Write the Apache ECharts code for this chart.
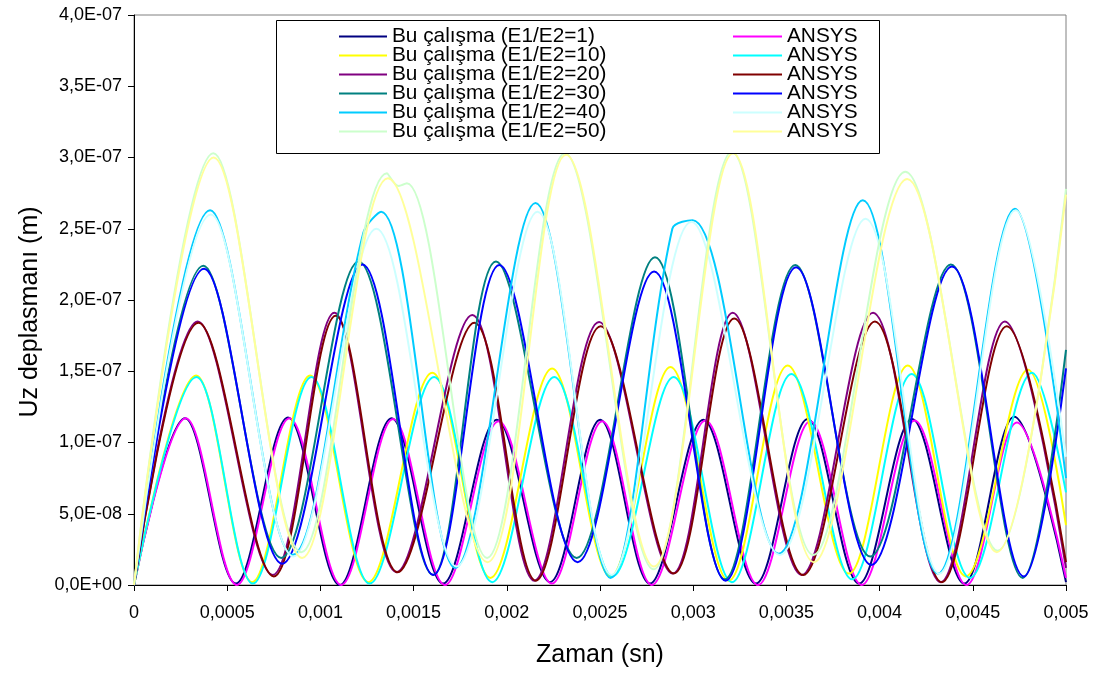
<!DOCTYPE html>
<html>
<head>
<meta charset="utf-8">
<script src="https://cdn.jsdelivr.net/npm/echarts@6/dist/echarts.min.js"></script>
<style>
  html, body { margin: 0; padding: 0; background: #ffffff; }
  #chart { width: 1105px; height: 678px; }
</style>
</head>
<body>
<div id="chart"></div>
<script>
// Tip displacement Uz (m) against time (s), given at the turning points of each response.
const bu1 = [[0,0],[0.000274,1.17e-7],[0.000546,0.1e-8],[0.000826,1.175e-7],[0.001104,0],[0.001382,1.17e-7],[0.001658,0.1e-8],[0.001946,1.16e-7],[0.002232,0.2e-8],[0.002501,1.16e-7],[0.002768,0.1e-8],[0.003054,1.16e-7],[0.003336,0.1e-8],[0.003614,1.165e-7],[0.00389,0.1e-8],[0.004174,1.165e-7],[0.004454,0.1e-8],[0.004722,1.18e-7],[0.005,0.2e-8]];
const ansys1 = [[0,0],[0.000278,1.17e-7],[0.000552,0],[0.000834,1.17e-7],[0.001112,0],[0.00139,1.165e-7],[0.001668,0],[0.001956,1.15e-7],[0.002242,0.1e-8],[0.002512,1.15e-7],[0.002778,0],[0.003066,1.155e-7],[0.003348,0],[0.003628,1.15e-7],[0.003904,0],[0.004188,1.155e-7],[0.004466,0],[0.004736,1.14e-7],[0.005,0.5e-8]];

const bu10 = [[0,0],[0.000333,1.47e-7],[0.000634,0.2e-8],[0.000945,1.47e-7],[0.001257,0.2e-8],[0.0016,1.49e-7],[0.001912,0.5e-8],[0.002243,1.52e-7],[0.002556,0.6e-8],[0.002878,1.53e-7],[0.00319,0.3e-8],[0.003507,1.54e-7],[0.003835,0.8e-8],[0.004151,1.54e-7],[0.004463,0.6e-8],[0.004796,1.51e-7],[0.005,4.2e-8]];
const ansys10 = [[0,0],[0.000335,1.46e-7],[0.000638,0.1e-8],[0.000952,1.46e-7],[0.001265,0.1e-8],[0.00161,1.46e-7],[0.001922,0.2e-8],[0.002255,1.46e-7],[0.002568,0.6e-8],[0.002895,1.46e-7],[0.003208,0.2e-8],[0.003527,1.48e-7],[0.003853,0.4e-8],[0.004172,1.48e-7],[0.004485,0.5e-8],[0.004818,1.49e-7],[0.005,6.5e-8]];

const bu20 = [[0,0],[0.000342,1.85e-7],[0.000744,0.7e-8],[0.001075,1.91e-7],[0.001408,0.9e-8],[0.001815,1.895e-7],[0.002148,0.3e-8],[0.002495,1.845e-7],[0.00289,0.8e-8],[0.003212,1.91e-7],[0.003582,0.7e-8],[0.003965,1.91e-7],[0.004328,0.2e-8],[0.004672,1.85e-7],[0.005,1.2e-8]];
const ansys20 = [[0,0],[0.000346,1.84e-7],[0.00075,0.6e-8],[0.001082,1.89e-7],[0.001414,0.9e-8],[0.001826,1.84e-7],[0.002156,0.3e-8],[0.002503,1.815e-7],[0.002896,0.8e-8],[0.00322,1.87e-7],[0.00359,0.7e-8],[0.003975,1.85e-7],[0.004334,0.2e-8],[0.004682,1.815e-7],[0.005,1.6e-8]];

const bu30 = [[0,0],[0.000372,2.24e-7],[0.00079,1.9e-8],[0.001205,2.27e-7],[0.001604,0.7e-8],[0.001942,2.27e-7],[0.002375,1.9e-8],[0.002795,2.3e-7],[0.00317,0.4e-8],[0.003548,2.245e-7],[0.00395,2.0e-8],[0.004382,2.25e-7],[0.004768,0.5e-8],[0.005,1.65e-7]];
const ansys30 = [[0,0],[0.000376,2.22e-7],[0.000795,1.5e-8],[0.001225,2.25e-7],[0.001606,0.7e-8],[0.00196,2.245e-7],[0.00238,1.6e-8],[0.00279,2.2e-7],[0.003174,0.3e-8],[0.003552,2.23e-7],[0.003956,1.4e-8],[0.004388,2.235e-7],[0.004774,0.6e-8],[0.005,1.52e-7]];

const bu40 = [[0,0],[0.000408,2.63e-7],[0.000849,2.1e-8],[0.00123,2.47e-7],[0.001326,2.62e-7],[0.001724,1.2e-8],[0.002154,2.68e-7],[0.002556,0.5e-8],[0.002888,2.5e-7],[0.002997,2.56e-7],[0.003459,2.2e-8],[0.00391,2.7e-7],[0.004313,0.8e-8],[0.004726,2.64e-7],[0.005,7.5e-8]];
const ansys40 = [[0,0],[0.000412,2.6e-7],[0.000855,2.0e-8],[0.0013,2.5e-7],[0.00173,1.3e-8],[0.002165,2.62e-7],[0.002562,0.7e-8],[0.00299,2.55e-7],[0.003465,2.1e-8],[0.003925,2.57e-7],[0.00432,0.8e-8],[0.00473,2.63e-7],[0.005,9e-8]];

const bu50 = [[0,0],[0.000426,3.03e-7],[0.000898,2.3e-8],[0.001357,2.89e-7],[0.00142,2.8e-7],[0.001464,2.82e-7],[0.001894,1.9e-8],[0.002312,3.03e-7],[0.002787,1.1e-8],[0.003208,3.04e-7],[0.003645,2.1e-8],[0.004138,2.9e-7],[0.004633,2.4e-8],[0.005,2.78e-7]];
const ansys50 = [[0,0],[0.000428,3.0e-7],[0.000902,1.9e-8],[0.001362,2.855e-7],[0.001896,1.6e-8],[0.002318,3.02e-7],[0.002789,1.3e-8],[0.003214,3.03e-7],[0.003648,1.6e-8],[0.004148,2.85e-7],[0.004629,2.3e-8],[0.005,2.74e-7]];

const ratios = ['1', '10', '20', '30', '40', '50'];
const ownResults = [bu1, bu10, bu20, bu30, bu40, bu50];
const ansysResults = [ansys1, ansys10, ansys20, ansys30, ansys40, ansys50];
const ownColors = ['#000080', '#FFFF00', '#800080', '#008080', '#00CCFF', '#CCFFCC'];
const ansysColors = ['#FF00FF', '#00FFFF', '#800000', '#0000FF', '#CCFFFF', '#FFFF99'];

const FONT = "'Liberation Sans', Arial, sans-serif";

const ownNames = ratios.map(r => 'Bu çalışma (E1/E2=' + r + ')');
const ansysNames = ratios.map(r => 'ANSYS (E1/E2=' + r + ')');

function lineSeries(name, data, color) {
  return {
    name: name,
    type: 'line',
    data: data,
    smooth: 0.35,
    symbol: 'none',
    lineStyle: { color: color, width: 2 },
    itemStyle: { color: color },
    emphasis: { disabled: true },
    animation: false
  };
}

// Draw order: each pair (own result, ANSYS) in turn
const series = [];
ratios.forEach((r, i) => {
  series.push(lineSeries(ownNames[i], ownResults[i], ownColors[i]));
  series.push(lineSeries(ansysNames[i], ansysResults[i], ansysColors[i]));
});

function sciLabel(v) {
  const parts = v.toExponential(1).split('e');
  const exp = parseInt(parts[1], 10);
  const sign = exp < 0 ? '-' : '+';
  return parts[0].replace('.', ',') + 'E' + sign + String(Math.abs(exp)).padStart(2, '0');
}

function timeLabel(v) {
  if (v === 0) return '0';
  return String(Number(v.toFixed(5))).replace('.', ',');
}

const legendCommon = {
  orient: 'vertical',
  top: 26,
  itemGap: -2,
  icon: 'rect',
  itemHeight: 2,
  padding: 0,
  selectedMode: false,
  textStyle: { fontFamily: FONT, fontSize: 20.8, lineHeight: 19, color: '#000000' },
  formatter: name => name.startsWith('ANSYS') ? 'ANSYS' : name,
  z: 5
};

const chart = echarts.init(document.getElementById('chart'), null, { renderer: 'canvas' });
chart.setOption({
  backgroundColor: '#ffffff',
  animation: false,
  grid: {
    left: 134, right: 39, top: 15, bottom: 93,
    show: true, borderColor: '#808080', borderWidth: 1, backgroundColor: 'transparent'
  },
  legend: [
    Object.assign({}, legendCommon, { left: 339, itemWidth: 48, data: ownNames }),
    Object.assign({}, legendCommon, { left: 733, itemWidth: 49, data: ansysNames })
  ],
  graphic: [{
    type: 'rect',
    shape: { x: 276.5, y: 20.5, width: 603, height: 133 },
    style: { fill: '#ffffff', stroke: '#000000', lineWidth: 1 },
    z: 4
  }],
  xAxis: {
    type: 'value',
    min: 0, max: 0.005, interval: 0.0005,
    name: 'Zaman (sn)',
    nameLocation: 'middle',
    nameGap: 58,
    nameTextStyle: { fontFamily: FONT, fontSize: 25, color: '#000000' },
    axisLine: { show: true, onZero: false, lineStyle: { color: '#000000', width: 1 } },
    axisTick: { show: true, inside: false, length: 6, lineStyle: { color: '#000000' } },
    axisLabel: {
      show: true, margin: 19, showMinLabel: true, showMaxLabel: true,
      fontFamily: FONT, fontSize: 18, color: '#000000', formatter: timeLabel
    },
    splitLine: { show: false }
  },
  yAxis: {
    type: 'value',
    min: 0, max: 4e-7, interval: 5e-8,
    name: 'Uz deplasmanı (m)',
    nameLocation: 'middle',
    nameGap: 91,
    nameTextStyle: { fontFamily: FONT, fontSize: 25, color: '#000000', padding: [0, 24, 0, 0] },
    axisLine: { show: true, onZero: false, lineStyle: { color: '#000000', width: 1 } },
    axisTick: { show: true, inside: false, length: 6, lineStyle: { color: '#000000' } },
    axisLabel: {
      show: true, margin: 12, showMinLabel: true, showMaxLabel: true,
      fontFamily: FONT, fontSize: 18, color: '#000000', formatter: sciLabel
    },
    splitLine: { show: false }
  },
  series: series
});
</script>
</body>
</html>
